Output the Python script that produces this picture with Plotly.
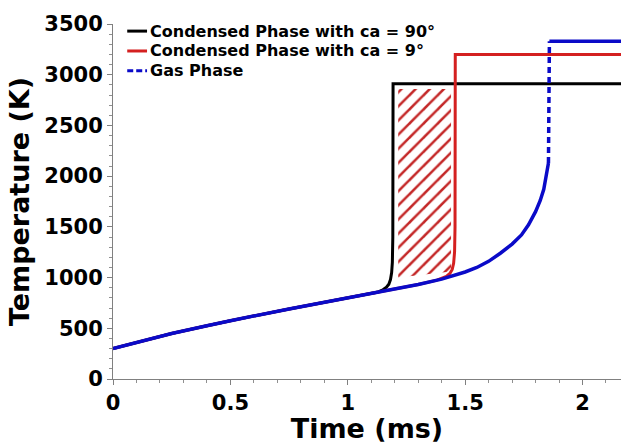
import numpy as np
import plotly.graph_objects as go

# ---------------- data ----------------
# Gas phase temperature history (ms, K)
gas_t = [0.0, 0.1, 0.25, 0.4, 0.5, 0.75, 1.0, 1.2, 1.3, 1.4, 1.5, 1.55, 1.6, 1.65, 1.7,
         1.74, 1.77, 1.8, 1.82, 1.835, 1.845, 1.852, 1.855]
gas_T = [300, 362, 448, 525, 575, 690, 800, 885, 932, 985, 1055, 1100, 1160, 1240, 1330,
         1420, 1520, 1650, 1760, 1870, 1980, 2070, 2130]
gas_jump_t = 1.859
gas_final_T = 3330

# Condensed phase, contact angle 90 deg
c90_t = [0.0, 0.1, 0.25, 0.4, 0.5, 0.75, 1.0, 1.13, 1.15, 1.165, 1.175, 1.182, 1.187, 1.19, 1.192, 1.193, 2.17]
c90_T = [300, 362, 448, 525, 575, 690, 800, 858, 880, 905, 935, 980, 1050, 1150, 1400, 2910, 2910]

# Condensed phase, contact angle 9 deg
c9_t = [0.0, 0.1, 0.25, 0.4, 0.5, 0.75, 1.0, 1.2, 1.3, 1.38, 1.4, 1.42, 1.435, 1.445, 1.451, 1.455, 1.457, 1.458, 2.17]
c9_T = [300, 362, 448, 525, 575, 690, 800, 885, 932, 975, 990, 1012, 1040, 1080, 1140, 1250, 1500, 3200, 3200]

# Hatched band between the two ignition times
hatch_t = [1.215, 1.44, 1.44, 1.215]
hatch_T = [1000, 1060, 2860, 2860]

x_ticks = [0, 0.5, 1, 1.5, 2]
x_tick_text = ["0", "0.5", "1", "1.5", "2"]
y_ticks = [0, 500, 1000, 1500, 2000, 2500, 3000, 3500]

labels = ["Condensed Phase with ca = 90°", "Condensed Phase with ca = 9°", "Gas Phase"]

# ---------------- figure ----------------
FONT = "DejaVu Sans"
BLACK = "#000000"
RED = "#d42020"
BLUE = "#0a0ac8"
HATCH = "#c42828"
X_MAX = 2.164

fig = go.Figure()

# hatch
fig.add_trace(go.Scatter(
    x=hatch_t, y=hatch_T, mode="lines", fill="toself",
    line=dict(width=0, color="rgba(0,0,0,0)"),
    fillcolor="rgba(0,0,0,0)",
    fillpattern=dict(shape="/", fgcolor=HATCH, bgcolor="rgba(0,0,0,0)", fgopacity=1,
                     size=10, solidity=0.25),
    showlegend=False, hoverinfo="skip"))

fig.add_trace(go.Scatter(x=c90_t, y=c90_T, mode="lines", name=labels[0],
                         line=dict(color=BLACK, width=3), showlegend=False))
fig.add_trace(go.Scatter(x=c9_t, y=c9_T, mode="lines", name=labels[1],
                         line=dict(color=RED, width=3), showlegend=False))

# gas phase: solid curve, dashed jump, solid plateau
fig.add_trace(go.Scatter(x=gas_t, y=gas_T, mode="lines", showlegend=False,
                         line=dict(color=BLUE, width=3.5)))
fig.add_trace(go.Scatter(x=[gas_t[-1], gas_jump_t], y=[gas_T[-1], gas_final_T], mode="lines",
                         name=labels[2], showlegend=False,
                         line=dict(color=BLUE, width=3.5, dash="6px,4px")))
fig.add_trace(go.Scatter(x=[gas_jump_t, 2.17], y=[gas_final_T, gas_final_T], mode="lines",
                         showlegend=False, line=dict(color=BLUE, width=3.5)))

axis_common = dict(
    showgrid=False, zeroline=False, showline=True, linecolor="#808080", linewidth=1,
    ticks="outside", ticklen=5, tickwidth=1, tickcolor="#808080", automargin=False,
    tickfont=dict(family=FONT, size=21, color="black", weight="bold"),
    minor=dict(ticks="outside", ticklen=3, tickwidth=1, tickcolor="#909090"),
)

fig.update_xaxes(
    range=[0, X_MAX], tickvals=x_ticks, ticktext=x_tick_text,
    minor_dtick=0.1, minor_tick0=0,
    title=dict(text="Time (ms)", font=dict(family=FONT, size=27, color="black", weight="bold"), standoff=2),
    **axis_common)
fig.update_yaxes(
    range=[0, 3500], tickvals=y_ticks,
    minor_dtick=100, minor_tick0=0,
    title=dict(text="Temperature (K)", font=dict(family=FONT, size=27, color="black", weight="bold"), standoff=6),
    **axis_common)

# manual legend (line samples + text), positioned in paper coordinates
leg_colors = [BLACK, RED, BLUE]
leg_dash = ["solid", "solid", "6px,3px"]
leg_y = [0.980, 0.924, 0.868]
for lab, col, dsh, yy in zip(labels, leg_colors, leg_dash, leg_y):
    fig.add_shape(type="line", xref="paper", yref="paper", x0=0.028, x1=0.067, y0=yy, y1=yy,
                  line=dict(color=col, width=3, dash=dsh))
    fig.add_annotation(xref="paper", yref="paper", x=0.069, y=yy, text=lab, showarrow=False,
                       xanchor="left", yanchor="middle",
                       font=dict(family=FONT, size=16, color="black", weight="bold"))

fig.update_layout(
    width=621, height=444,
    margin=dict(l=113, r=0, t=24, b=65),
    paper_bgcolor="white", plot_bgcolor="white",
    showlegend=False,
)

fig.write_html("out.html", config={"displayModeBar": False},
               post_script="document.body.style.margin='0px';")
